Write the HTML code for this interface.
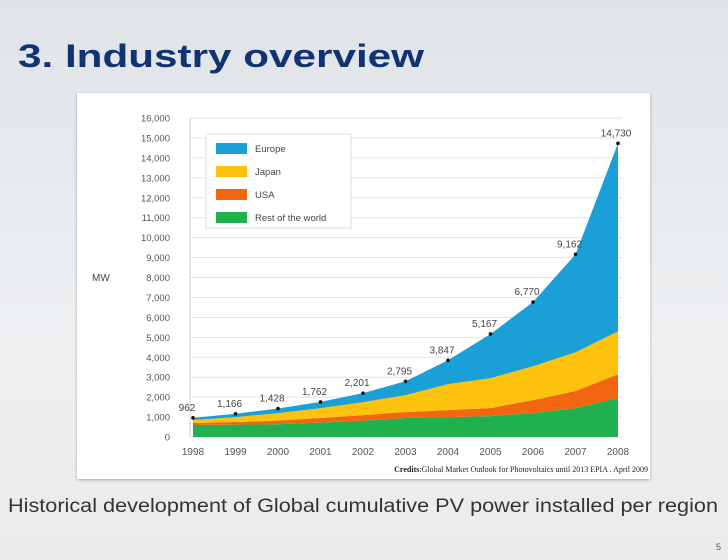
<!DOCTYPE html>
<html><head><meta charset="utf-8"><style>
html,body{margin:0;padding:0}
body{width:728px;height:560px;overflow:hidden;background:linear-gradient(180deg,#dfe3e7 0%,#eef0f2 60%,#e9ebed 100%);font-family:"Liberation Sans",sans-serif;position:relative}
#panel{position:absolute;left:77px;top:93px;width:573px;height:386px;background:#fff;box-shadow:0 1px 3px rgba(0,0,0,.3)}
#pg{position:absolute;left:716px;top:542px;font-size:9px;color:#555}
</style></head><body>
<svg width="728" height="560" style="position:absolute;left:0;top:0">
<text x="18" y="67" font-size="32" font-weight="bold" fill="#123373" textLength="406" lengthAdjust="spacingAndGlyphs" font-family="Liberation Sans, sans-serif">3. Industry overview</text>
</svg>
<div id="panel"></div>
<svg id="chart" width="728" height="560" style="position:absolute;left:0;top:0"></svg>
<svg width="728" height="560" style="position:absolute;left:0;top:0">
<text x="8" y="512" font-size="19" fill="#333" textLength="710" lengthAdjust="spacingAndGlyphs" font-family="Liberation Sans, sans-serif">Historical development of Global cumulative PV power installed per region</text>
</svg>
<div id="pg">5</div>
<script>
const years=[1998,1999,2000,2001,2002,2003,2004,2005,2006,2007,2008];
const totals=[962,1166,1428,1762,2201,2795,3847,5167,6770,9162,14730];
const rowValues=[600,620,640,720,820,950,1000,1050,1200,1450,1950];
const usaValues=[100,130,180,230,280,300,350,400,650,850,1200];
const japanValues=[150,250,380,500,650,850,1300,1500,1700,1950,2150];
const europeValues=totals.map((t,i)=>t-rowValues[i]-usaValues[i]-japanValues[i]);
const yTicks=[0,1000,2000,3000,4000,5000,6000,7000,8000,9000,10000,11000,12000,13000,14000,15000,16000];
const totalLabels=["962","1,166","1,428","1,762","2,201","2,795","3,847","5,167","6,770","9,162","14,730"];
const seriesNames=["Europe","Japan","USA","Rest of the world"];
const NS="http://www.w3.org/2000/svg";
const svg=document.getElementById('chart');
const x=i=>193+(i)*(618-193)/(years.length-1);
const y=v=>437-v*319/16000;
function mk(t,a,p){const e=document.createElementNS(NS,t);for(const k in a)e.setAttribute(k,a[k]);(p||svg).appendChild(e);return e;}
yTicks.forEach(v=>{
 const l=mk('line',{x1:190,x2:622,y1:y(v),y2:y(v),stroke:'#e2e2e2','stroke-width':1});
 
 
 const t=mk('text',{x:170,y:y(v)+3.5,'text-anchor':'end','font-size':9.5,fill:'#555'});
 t.textContent=v.toLocaleString('en-US');
 
 
});
const mw=mk('text',{x:92,y:281,'font-size':10,fill:'#444'});mw.textContent='MW';


const stacks=[rowValues,usaValues,japanValues,europeValues];
const colors=['#1fb14e','#f26511','#fcc20d','#1a9fd6'];
const names=['area-rest-of-world','area-usa','area-japan','area-europe'];
let base=years.map(()=>0);
stacks.forEach((s,k)=>{
 const top=base.map((b,i)=>b+s[i]);
 let d='M'+years.map((_,i)=>x(i)+','+y(top[i])).join(' L');
 for(let i=years.length-1;i>=0;i--)d+=' L'+x(i)+','+y(base[i]);
 const p=mk('path',{d:d+'Z',fill:colors[k]});
 
 
 base=top;
});
mk('line',{x1:190,x2:190,y1:118,y2:437,stroke:'#ccc'});
years.forEach((yr,i)=>{
 const t=mk('text',{x:x(i),y:455,'text-anchor':'middle','font-size':10,fill:'#555'});t.textContent=yr;
 
 
 const d=mk('circle',{cx:x(i),cy:y(totals[i]),r:1.8,fill:'#111'});
 
 
 const lb=mk('text',{x:x(i)+(i==years.length-1?-2:-6),y:y(totals[i])-7,'text-anchor':'middle','font-size':10,fill:'#444'});lb.textContent=totalLabels[i];
 
 
});
const lg=mk('rect',{x:206,y:134,width:145,height:94,fill:'#fff',stroke:'#ddd'});


const lc=['#1a9fd6','#fcc20d','#f26511','#1fb14e'];
seriesNames.forEach((n,i)=>{
 const r=mk('rect',{x:216,y:143+i*23,width:31,height:11,fill:lc[i]});
 
 
 const t=mk('text',{x:255,y:152+i*23,'font-size':9.5,fill:'#444'});t.textContent=n;
 
 
});
const cr=mk('text',{x:648,y:472,'text-anchor':'end','font-size':8,fill:'#222','font-family':'Liberation Serif, serif'});
cr.innerHTML='<tspan font-weight="bold">Credits</tspan>:Global Market Outlook for Photovoltaics until 2013 EPIA . April 2009';


</script>
</body></html>
